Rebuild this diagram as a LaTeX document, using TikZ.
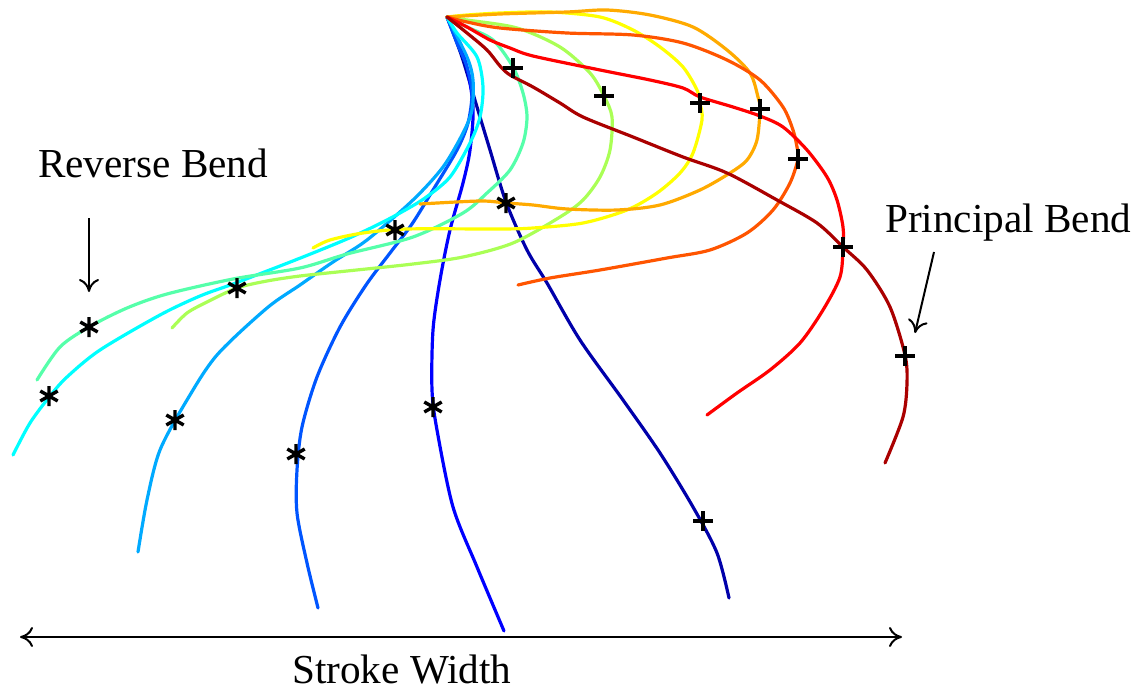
\documentclass[tikz,border=0pt]{standalone}
\usepackage{fontspec}
\setmainfont{Liberation Serif}
\usetikzlibrary{arrows.meta}
\definecolor{jA}{rgb}{0,0,0.667}
\definecolor{jB}{rgb}{0,0,1}
\definecolor{jC}{rgb}{0,0.333,1}
\definecolor{jD}{rgb}{0,0.667,1}
\definecolor{jE}{rgb}{0,1,1}
\definecolor{jF}{rgb}{0.333,1,0.667}
\definecolor{jG}{rgb}{0.667,1,0.333}
\definecolor{jH}{rgb}{1,1,0}
\definecolor{jI}{rgb}{1,0.667,0}
\definecolor{jJ}{rgb}{1,0.333,0}
\definecolor{jK}{rgb}{1,0,0}
\definecolor{jL}{rgb}{0.667,0,0}
\begin{document}
\begin{tikzpicture}[x=1pt,y=-1pt,
  curve/.style={line width=3.2pt, line join=round, line cap=round},
  lbl/.style={anchor=base west, inner sep=0pt, font=\fontsize{41.2}{45}\selectfont},
  annarrow/.style={line width=2pt, -{To[length=13pt,width=20pt]}},
  pmark/.pic={\draw[line width=3.4pt] (-10,0)--(10,0) (0,-10)--(0,10);},
  smark/.pic={\draw[line width=3.4pt] (0,-10)--(0,10) (-8.7,-5)--(8.7,5) (-8.7,5)--(8.7,-5);}
]
\fill[white] (0,0) rectangle (1135,690);
\useasboundingbox (0,0) rectangle (1135,690);

% curves (jet colormap)
\draw[curve,jA] plot[smooth,tension=0.5] coordinates {(447,17) (462,57) (477,107) (490,150) (506,202) (527,250) (547,283) (580,340) (623,400) (660,453) (693,507) (717,553) (729,598)};
\draw[curve,jB] plot[smooth,tension=0.5] coordinates {(447,17) (465,60) (473,107) (470,150) (463,183) (450,230) (440,280) (433,330) (432,390) (437,430) (453,507) (477,567) (504,631)};
\draw[curve,jC] plot[smooth,tension=0.5] coordinates {(447,17) (457,43) (467,67) (472,93) (468,123) (457,150) (433,190) (412,224) (390,253) (366,285) (340,327) (317,377) (302,427) (297,470) (297,513) (307,563) (318,608)};
\draw[curve,jD] plot[smooth,tension=0.5] coordinates {(447,17) (467,57) (473,80) (472,110) (463,133) (443,167) (413,200) (367,240) (333,262) (300,285) (267,308) (217,355) (187,400) (160,450) (147,500) (138,552)};
\draw[curve,jE] plot[smooth,tension=0.5] coordinates {(447,17) (457,33) (477,57) (483,87) (480,117) (470,143) (450,177) (425,198) (400,213) (375,226) (347,239) (313,253) (280,266) (233,284) (200,296) (160,315) (100,350) (67,377) (50,396) (30,423) (13,455)};
\draw[curve,jF] plot[smooth,tension=0.5] coordinates {(447,17) (467,27) (493,40) (513,67) (523,93) (527,117) (523,143) (510,170) (487,193) (463,213) (413,237) (347,254) (300,268) (233,279) (167,294) (127,308) (89,327) (60,347) (37,380)};
\draw[curve,jG] plot[smooth,tension=0.5] coordinates {(447,17) (467,20) (517,28) (560,47) (590,73) (604,96) (612,117) (610,150) (600,177) (583,200) (560,217) (513,243) (463,257) (413,264) (347,271) (300,276) (267,281) (237,288) (207,302) (187,313) (172,328)};
\draw[curve,jH] plot[smooth,tension=0.5] coordinates {(447,17) (467,15) (500,13) (550,12) (600,17) (633,30) (660,47) (683,67) (697,90) (700,103) (702,120) (693,153) (680,173) (657,193) (627,210) (583,223) (533,228) (500,229) (407,229) (363,233) (330,240) (313,248)};
\draw[curve,jI] plot[smooth,tension=0.5] coordinates {(447,17) (500,14) (567,12) (607,10) (650,15) (693,27) (727,50) (750,73) (758,97) (760,109) (757,140) (747,160) (730,173) (700,190) (660,205) (617,210) (567,209) (533,205) (506,203) (480,201) (420,204)};
\draw[curve,jJ] plot[smooth,tension=0.5] coordinates {(447,17) (467,22) (500,28) (567,33) (633,35) (683,43) (727,60) (760,80) (783,107) (793,130) (797,147) (798,159) (790,183) (773,210) (747,233) (710,250) (667,258) (600,270) (550,278) (518,285)};
\draw[curve,jK] plot[smooth,tension=0.5] coordinates {(447,17) (467,27) (490,40) (510,48) (533,56) (600,70) (650,80) (683,88) (700,97) (733,107) (760,116) (783,127) (807,150) (827,177) (837,200) (843,227) (843,247) (840,277) (823,310) (800,343) (770,370) (737,393) (707,415)};
\draw[curve,jL] plot[smooth,tension=0.5] coordinates {(447,17) (467,33) (487,50) (500,66) (510,75) (533,87) (560,103) (583,117) (633,137) (683,157) (727,173) (777,200) (817,223) (843,247) (867,270) (890,307) (905,355) (907,383) (903,417) (885,463)};

% principal bend markers (+)
\pic at (513,68) {pmark};
\pic at (604,96) {pmark};
\pic at (700,103) {pmark};
\pic at (760,109) {pmark};
\pic at (798,159) {pmark};
\pic at (843,247) {pmark};
\pic at (905,356) {pmark};
\pic at (703,521) {pmark};

% reverse bend markers (*)
\pic at (433,407) {smark};
\pic at (296,454) {smark};
\pic at (175,420) {smark};
\pic at (49,396) {smark};
\pic at (89,327) {smark};
\pic at (237,288) {smark};
\pic at (395,230) {smark};
\pic at (506,203) {smark};

% labels
\node[lbl] (rev) at (38,177) {Reverse Bend};
\node[lbl] (pri) at (885,232) {Principal Bend};
\node[lbl] (sw) at (292,683) {Stroke Width};

% annotation arrows
\coordinate (revA) at (89,218);
\coordinate (revB) at (89,292);
\coordinate (priA) at (934,252);
\coordinate (priB) at (915,333);
\coordinate (swA) at (902,637);
\coordinate (swB) at (20,637);
\draw[annarrow] (revA) -- (revB);
\draw[annarrow] (priA) -- (priB);
\draw[line width=2pt, {To[length=13pt,width=20pt]}-{To[length=13pt,width=20pt]}] (swB) -- (swA);
\end{tikzpicture}
\end{document}
